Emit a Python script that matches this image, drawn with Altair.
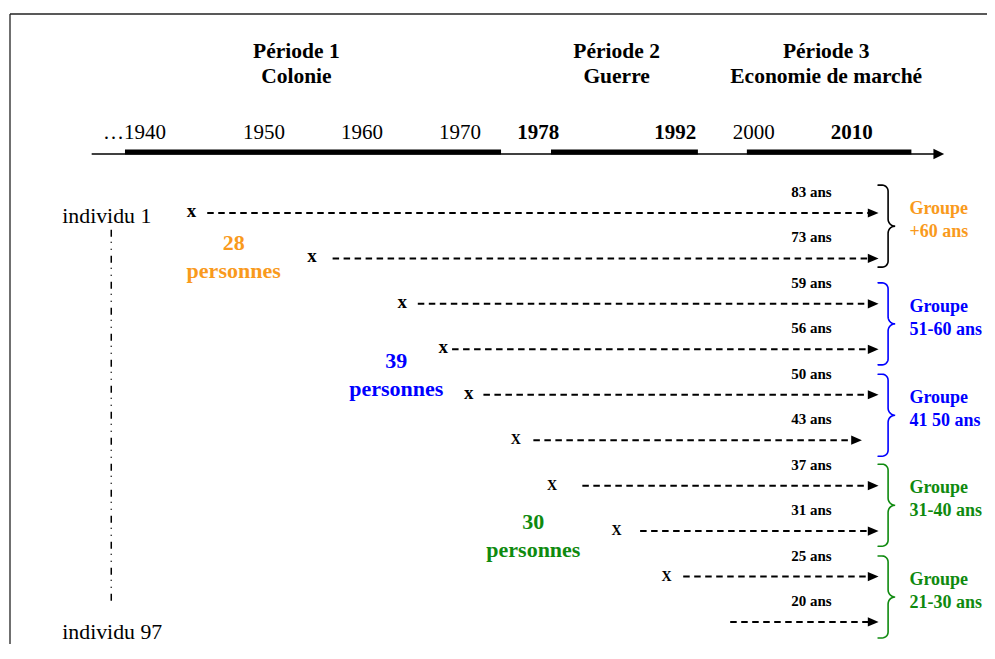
import altair as alt
import pandas as pd
import numpy as np

FONT = "Liberation Serif"
ORANGE = "#F99A1C"
BLUE = "#0000FF"
GREEN = "#0F8A0F"

# ---------------- timeline (header) ----------------
tick_years = [1940, 1950, 1960, 1970, 1978, 1992, 2000, 2010]
tick_labels = ["…1940", "1950", "1960", "1970", "1978", "1992", "2000", "2010"]
tick_bold = [False, False, False, False, True, True, False, True]

period_names = ["Période 1", "Période 2", "Période 3"]
period_desc = ["Colonie", "Guerre", "Economie de marché"]
period_start = [1935.8, 1979.3, 1999.3]
period_end = [1974.2, 1994.3, 2016.1]
period_label_year = [1953.3, 1986.0, 2007.4]

axis_start = [1932.4]
axis_end = [2018.9]

# ---------------- individuals ----------------
rows = [1, 2, 3, 4, 5, 6, 7, 8, 9, 10]
ages = ["83 ans", "73 ans", "59 ans", "56 ans", "50 ans", "43 ans", "37 ans", "31 ans", "25 ans", "20 ans"]
marker_text = ["x", "x", "x", "x", "x", "X", "X", "X", "X", ""]
marker_year = [1942.6, 1954.9, 1964.1, 1968.3, 1970.9, 1975.7, 1979.4, 1986.0, 1991.1, None]
line_start = [1944.2, 1957.0, 1965.7, 1969.2, 1972.4, 1977.5, 1982.5, 1988.4, 1992.8, 1997.6]
line_end = [2012.2, 2012.2, 2012.2, 2012.2, 2012.2, 2010.5, 2012.2, 2012.2, 2012.2, 2012.2]
age_label_year = 2005.9

individu_labels = ["individu 1", "individu 97"]
individu_rows = [1.06, 10.23]
individu_year = 1929.4
spine_year = 1934.4
spine_rows = [1.37, 9.58]

# ---------------- counts ----------------
count_values = ["28", "39", "30"]
count_year = [1946.9, 1963.5, 1977.5]
count_row = [1.66, 4.26, 7.79]
count_color = [ORANGE, BLUE, GREEN]

# ---------------- groups ----------------
group_range = ["+60 ans", "51-60 ans", "41 50 ans", "31-40 ans", "21-30 ans"]
group_center_row = [1.29, 3.44, 5.45, 7.43, 9.45]
group_brace_color = ["#000000", BLUE, BLUE, GREEN, GREEN]
group_label_color = [ORANGE, BLUE, BLUE, GREEN, GREEN]
brace_year = 2012.7
group_label_year = 2015.9

# ---------------- scales ----------------
W, H = 977, 630
X_DOM = [1924.06, 2023.82]
Y_DOM = [-3.379, 10.485]
PX_PER_YEAR = W / (X_DOM[1] - X_DOM[0])
PX_PER_ROW = H / (Y_DOM[1] - Y_DOM[0])
XS = alt.Scale(domain=X_DOM, nice=False, zero=False)
YS = alt.Scale(domain=Y_DOM, nice=False, zero=False, reverse=True)


def xq(f):
    return alt.X(f, type="quantitative", scale=XS, axis=None)


def yq(f):
    return alt.Y(f, type="quantitative", scale=YS, axis=None)


def txt(**kw):
    base = dict(font=FONT, baseline="middle", align="center", color="black")
    base.update(kw)
    return base


ARROW = "M -1 -0.86 L 1 0 L -1 0.86 Z"
ARROW_AXIS = "M -1 -1 L 1 0 L -1 1 Z"

# ---------------- data frames ----------------
ticks_df = pd.DataFrame({"year": tick_years, "label": tick_labels, "bold": tick_bold})
first_tick = ticks_df.iloc[[0]]
rest = ticks_df.iloc[1:]
plain_ticks = rest[~rest["bold"]]
bold_ticks = ticks_df[ticks_df["bold"]]

period_df = pd.DataFrame({"name": period_names, "desc": period_desc, "start": period_start,
                          "end": period_end, "lx": period_label_year})
axis_df = pd.DataFrame({"start": axis_start, "end": axis_end})

ind_df = pd.DataFrame({"row": rows, "age": ages, "mk": marker_text, "mx": marker_year,
                       "start": line_start, "end": line_end})
ind_df["ax"] = age_label_year
low_df = ind_df[ind_df["mk"] == "x"]
up_df = ind_df[ind_df["mk"] == "X"]

lab_df = pd.DataFrame({"label": individu_labels, "row": individu_rows})
lab_df["x"] = individu_year
spine_df = pd.DataFrame({"x": [spine_year], "r1": [spine_rows[0]], "r2": [spine_rows[1]]})

count_df = pd.DataFrame({"n": count_values, "x": count_year, "row": count_row, "color": count_color})
count_df["word"] = "personnes"

grp_df = pd.DataFrame({"rng": group_range, "row": group_center_row, "color": group_label_color})
grp_df["x"] = group_label_year
grp_df["title"] = "Groupe"

# brace outline (drawing geometry, in pixel offsets -> data units)
def brace_offsets(half=41.0, r=6.0, rt=7.0, spine=10.0):
    pts = [(0.0, -half)]
    for t in np.radians(np.linspace(-90, 0, 8)):
        pts.append((spine - r + r * np.cos(t), -half + r + r * np.sin(t)))
    for t in np.radians(np.linspace(180, 90, 8)):
        pts.append((spine + rt + rt * np.cos(t), -rt + rt * np.sin(t)))
    lower = [(px, -py) for px, py in reversed(pts)]
    return pts + lower[1:]

brace_rows = []
for g, (c, col) in enumerate(zip(group_center_row, group_brace_color)):
    for i, (px, py) in enumerate(brace_offsets()):
        brace_rows.append({"g": g, "i": i, "x": brace_year + px / PX_PER_YEAR,
                           "row": c + py / PX_PER_ROW, "color": col})
brace_df = pd.DataFrame(brace_rows)

border_df = pd.DataFrame({"k": [0]})

# ---------------- layers ----------------
border_top = alt.Chart(border_df).mark_rule(color="#222222", strokeWidth=1.3).encode(
    x=alt.value(0), x2=alt.value(W), y=alt.value(0))
border_left = alt.Chart(border_df).mark_rule(color="#222222", strokeWidth=1.3).encode(
    x=alt.value(0), y=alt.value(0), y2=alt.value(H + 20))

axis_line = alt.Chart(axis_df).mark_rule(color="black", strokeWidth=1.3).encode(
    x=xq("start"), x2="end", y=alt.value(140))
axis_arrow = alt.Chart(axis_df).mark_point(shape=ARROW_AXIS, size=115, filled=True,
                                           color="black", opacity=1, strokeWidth=0).encode(
    x=xq("end"), y=alt.value(140))
period_bars = alt.Chart(period_df).mark_rule(color="black", strokeWidth=5, strokeCap="butt").encode(
    x=xq("start"), x2="end", y=alt.value(138))
period_name_t = alt.Chart(period_df).mark_text(**txt(fontSize=21.5, fontWeight="bold")).encode(
    x=xq("lx"), y=alt.value(38), text="name")
period_desc_t = alt.Chart(period_df).mark_text(**txt(fontSize=21.5, fontWeight="bold")).encode(
    x=xq("lx"), y=alt.value(63), text="desc")
tick_first = alt.Chart(first_tick).mark_text(**txt(fontSize=21, align="right")).encode(
    x=xq("year"), y=alt.value(119), text="label")
tick_plain = alt.Chart(plain_ticks).mark_text(**txt(fontSize=21)).encode(
    x=xq("year"), y=alt.value(119), text="label")
tick_bold_t = alt.Chart(bold_ticks).mark_text(**txt(fontSize=21, fontWeight="bold")).encode(
    x=xq("year"), y=alt.value(119), text="label")

spine = alt.Chart(spine_df).mark_rule(color="black", strokeWidth=1.5,
                                      strokeDash=[7, 5, 1, 6, 1, 6]).encode(
    x=xq("x"), y=yq("r1"), y2="r2")
ind_labels = alt.Chart(lab_df).mark_text(**txt(fontSize=21.8, align="left")).encode(
    x=xq("x"), y=yq("row"), text="label")

dashes = alt.Chart(ind_df).mark_rule(color="black", strokeWidth=2, strokeDash=[6.5, 4.5]).encode(
    x=xq("start"), x2="end", y=yq("row"))
heads = alt.Chart(ind_df).mark_point(shape=ARROW, size=115, filled=True, color="black",
                                     opacity=1, strokeWidth=0).encode(
    x=xq("end"), y=yq("row"))
marks_low = alt.Chart(low_df).mark_text(**txt(fontSize=19, fontWeight="bold", dy=-2)).encode(
    x=xq("mx"), y=yq("row"), text="mk")
marks_up = alt.Chart(up_df).mark_text(**txt(fontSize=14, fontWeight="bold")).encode(
    x=xq("mx"), y=yq("row"), text="mk")
age_t = alt.Chart(ind_df).mark_text(**txt(fontSize=15, fontWeight="bold", dy=-21)).encode(
    x=xq("ax"), y=yq("row"), text="age")

count_n = alt.Chart(count_df).mark_text(**txt(fontSize=22, fontWeight="bold")).encode(
    x=xq("x"), y=yq("row"), text="n", color=alt.Color("color:N", scale=None))
count_w = alt.Chart(count_df).mark_text(**txt(fontSize=22, fontWeight="bold", dy=28)).encode(
    x=xq("x"), y=yq("row"), text="word", color=alt.Color("color:N", scale=None))

braces = alt.Chart(brace_df).mark_line(strokeWidth=1.6, strokeCap="round").encode(
    x=xq("x"), y=yq("row"), detail="g:N", order="i:Q",
    color=alt.Color("color:N", scale=None))
grp_title = alt.Chart(grp_df).mark_text(**txt(fontSize=18, fontWeight="bold", align="left", dy=-17)).encode(
    x=xq("x"), y=yq("row"), text="title", color=alt.Color("color:N", scale=None))
grp_rng = alt.Chart(grp_df).mark_text(**txt(fontSize=18, fontWeight="bold", align="left", dy=6)).encode(
    x=xq("x"), y=yq("row"), text="rng", color=alt.Color("color:N", scale=None))

chart = alt.layer(
    border_top, border_left,
    axis_line, period_bars, axis_arrow, period_name_t, period_desc_t,
    tick_first, tick_plain, tick_bold_t,
    spine, ind_labels, dashes, heads, marks_low, marks_up, age_t,
    count_n, count_w, braces, grp_title, grp_rng,
).properties(
    width=W, height=H,
    padding={"left": 2, "top": 6, "right": 0, "bottom": 0},
    autosize="none",
    background="white",
).configure_view(stroke=None)

chart.save("out.html", embed_options={"renderer": "svg", "actions": False})
